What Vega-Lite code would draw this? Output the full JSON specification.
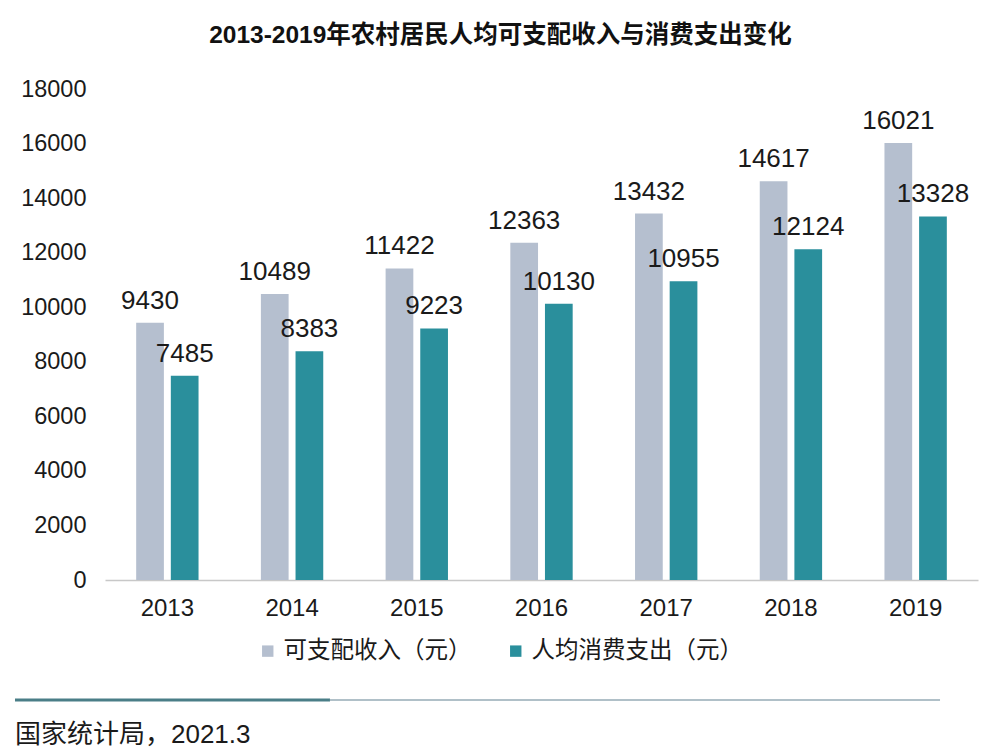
{
  "$schema": "https://vega.github.io/schema/vega-lite/v6.json",
  "autosize": {"type": "none"},
  "width": 873,
  "height": 491,
  "padding": {"left": 105, "top": 89, "right": 28, "bottom": 172},
  "background": "#ffffff",
  "config": {
    "view": {"stroke": null},
    "font": "Liberation Sans, Noto Sans CJK SC, sans-serif"
  },
  "title": {
    "text": "2013-2019年农村居民人均可支配收入与消费支出变化",
    "font": "Liberation Sans, Noto Sans CJK SC, sans-serif",
    "fontSize": 24.5,
    "fontWeight": "bold",
    "color": "#111111",
    "anchor": "middle",
    "frame": "group",
    "dx": -41,
    "offset": 29
  },
  "layer": [
    {
      "data": {
        "values": [
          {"year": "2013", "series": "可支配收入（元）", "value": 9430},
          {"year": "2013", "series": "人均消费支出（元）", "value": 7485},
          {"year": "2014", "series": "可支配收入（元）", "value": 10489},
          {"year": "2014", "series": "人均消费支出（元）", "value": 8383},
          {"year": "2015", "series": "可支配收入（元）", "value": 11422},
          {"year": "2015", "series": "人均消费支出（元）", "value": 9223},
          {"year": "2016", "series": "可支配收入（元）", "value": 12363},
          {"year": "2016", "series": "人均消费支出（元）", "value": 10130},
          {"year": "2017", "series": "可支配收入（元）", "value": 13432},
          {"year": "2017", "series": "人均消费支出（元）", "value": 10955},
          {"year": "2018", "series": "可支配收入（元）", "value": 14617},
          {"year": "2018", "series": "人均消费支出（元）", "value": 12124},
          {"year": "2019", "series": "可支配收入（元）", "value": 16021},
          {"year": "2019", "series": "人均消费支出（元）", "value": 13328}
        ]
      },
      "encoding": {
        "x": {
          "field": "year",
          "type": "nominal",
          "scale": {"paddingInner": 0.5, "paddingOuter": 0.25},
          "axis": {
            "title": null,
            "labelAngle": 0,
            "labelFontSize": 24,
            "labelColor": "#1a1a1a",
            "labelPadding": 16,
            "ticks": false,
            "domainColor": "#c8c8c8",
            "domainWidth": 1.5,
            "grid": false
          }
        },
        "xOffset": {
          "field": "series",
          "type": "nominal",
          "sort": ["可支配收入（元）", "人均消费支出（元）"],
          "scale": {"paddingInner": 0.2}
        },
        "y": {
          "field": "value",
          "type": "quantitative",
          "scale": {"domain": [0, 18000], "nice": false},
          "axis": {
            "title": null,
            "values": [0, 2000, 4000, 6000, 8000, 10000, 12000, 14000, 16000, 18000],
            "format": "d",
            "labelFontSize": 23.5,
            "labelColor": "#1a1a1a",
            "labelPadding": 19,
            "ticks": false,
            "domain": false,
            "grid": false
          }
        }
      },
      "layer": [
        {
          "mark": {"type": "bar"},
          "encoding": {
            "color": {
              "field": "series",
              "type": "nominal",
              "sort": ["可支配收入（元）", "人均消费支出（元）"],
              "scale": {
                "domain": ["可支配收入（元）", "人均消费支出（元）"],
                "range": ["#b5bfcf", "#2a8f9c"]
              },
              "legend": {
                "title": null,
                "orient": "none",
                "direction": "horizontal",
                "legendX": 151,
                "legendY": 550,
                "symbolType": "square",
                "symbolSize": 130,
                "symbolStrokeWidth": 0,
                "labelFontSize": 23.5,
                "labelColor": "#1a1a1a",
                "labelOffset": 4,
                "columnPadding": 32,
                "labelLimit": 400
              }
            }
          }
        },
        {
          "mark": {
            "type": "text",
            "baseline": "bottom",
            "dy": -9,
            "fontSize": 26,
            "color": "#1a1a1a"
          },
          "encoding": {
            "text": {"field": "value", "type": "quantitative", "format": "d"}
          }
        }
      ]
    },
    {
      "data": {
        "values": [
          {"seg": "dark", "start": -0.1031, "end": 0.2577, "level": 0},
          {"seg": "light", "start": 0.2577, "end": 0.9565, "level": 0}
        ]
      },
      "mark": {"type": "rule"},
      "encoding": {
        "x": {"field": "start", "type": "quantitative", "scale": {"domain": [0, 1]}, "axis": null},
        "x2": {"field": "end"},
        "y": {"field": "level", "type": "quantitative", "scale": {"domain": [0, -1], "range": [611, 1102]}, "axis": null},
        "color": {
          "field": "seg",
          "type": "nominal",
          "scale": {"domain": ["dark", "light"], "range": ["#4a7e87", "#b0c0c8"]},
          "legend": null
        },
        "strokeWidth": {
          "field": "seg",
          "type": "nominal",
          "scale": {"domain": ["dark", "light"], "range": [3, 2]},
          "legend": null
        }
      }
    },
    {
      "data": {"values": [{"label": "国家统计局，2021.3", "px": -0.1031, "level": 0}]},
      "mark": {"type": "text", "align": "left", "baseline": "middle", "fontSize": 26, "color": "#1a1a1a"},
      "encoding": {
        "x": {"field": "px", "type": "quantitative", "scale": {"domain": [0, 1]}, "axis": null},
        "y": {"field": "level", "type": "quantitative", "scale": {"domain": [0, -1], "range": [646, 1137]}, "axis": null},
        "text": {"field": "label"}
      }
    }
  ],
  "resolve": {"scale": {"x": "independent", "y": "independent", "color": "independent", "strokeWidth": "independent"}}
}
